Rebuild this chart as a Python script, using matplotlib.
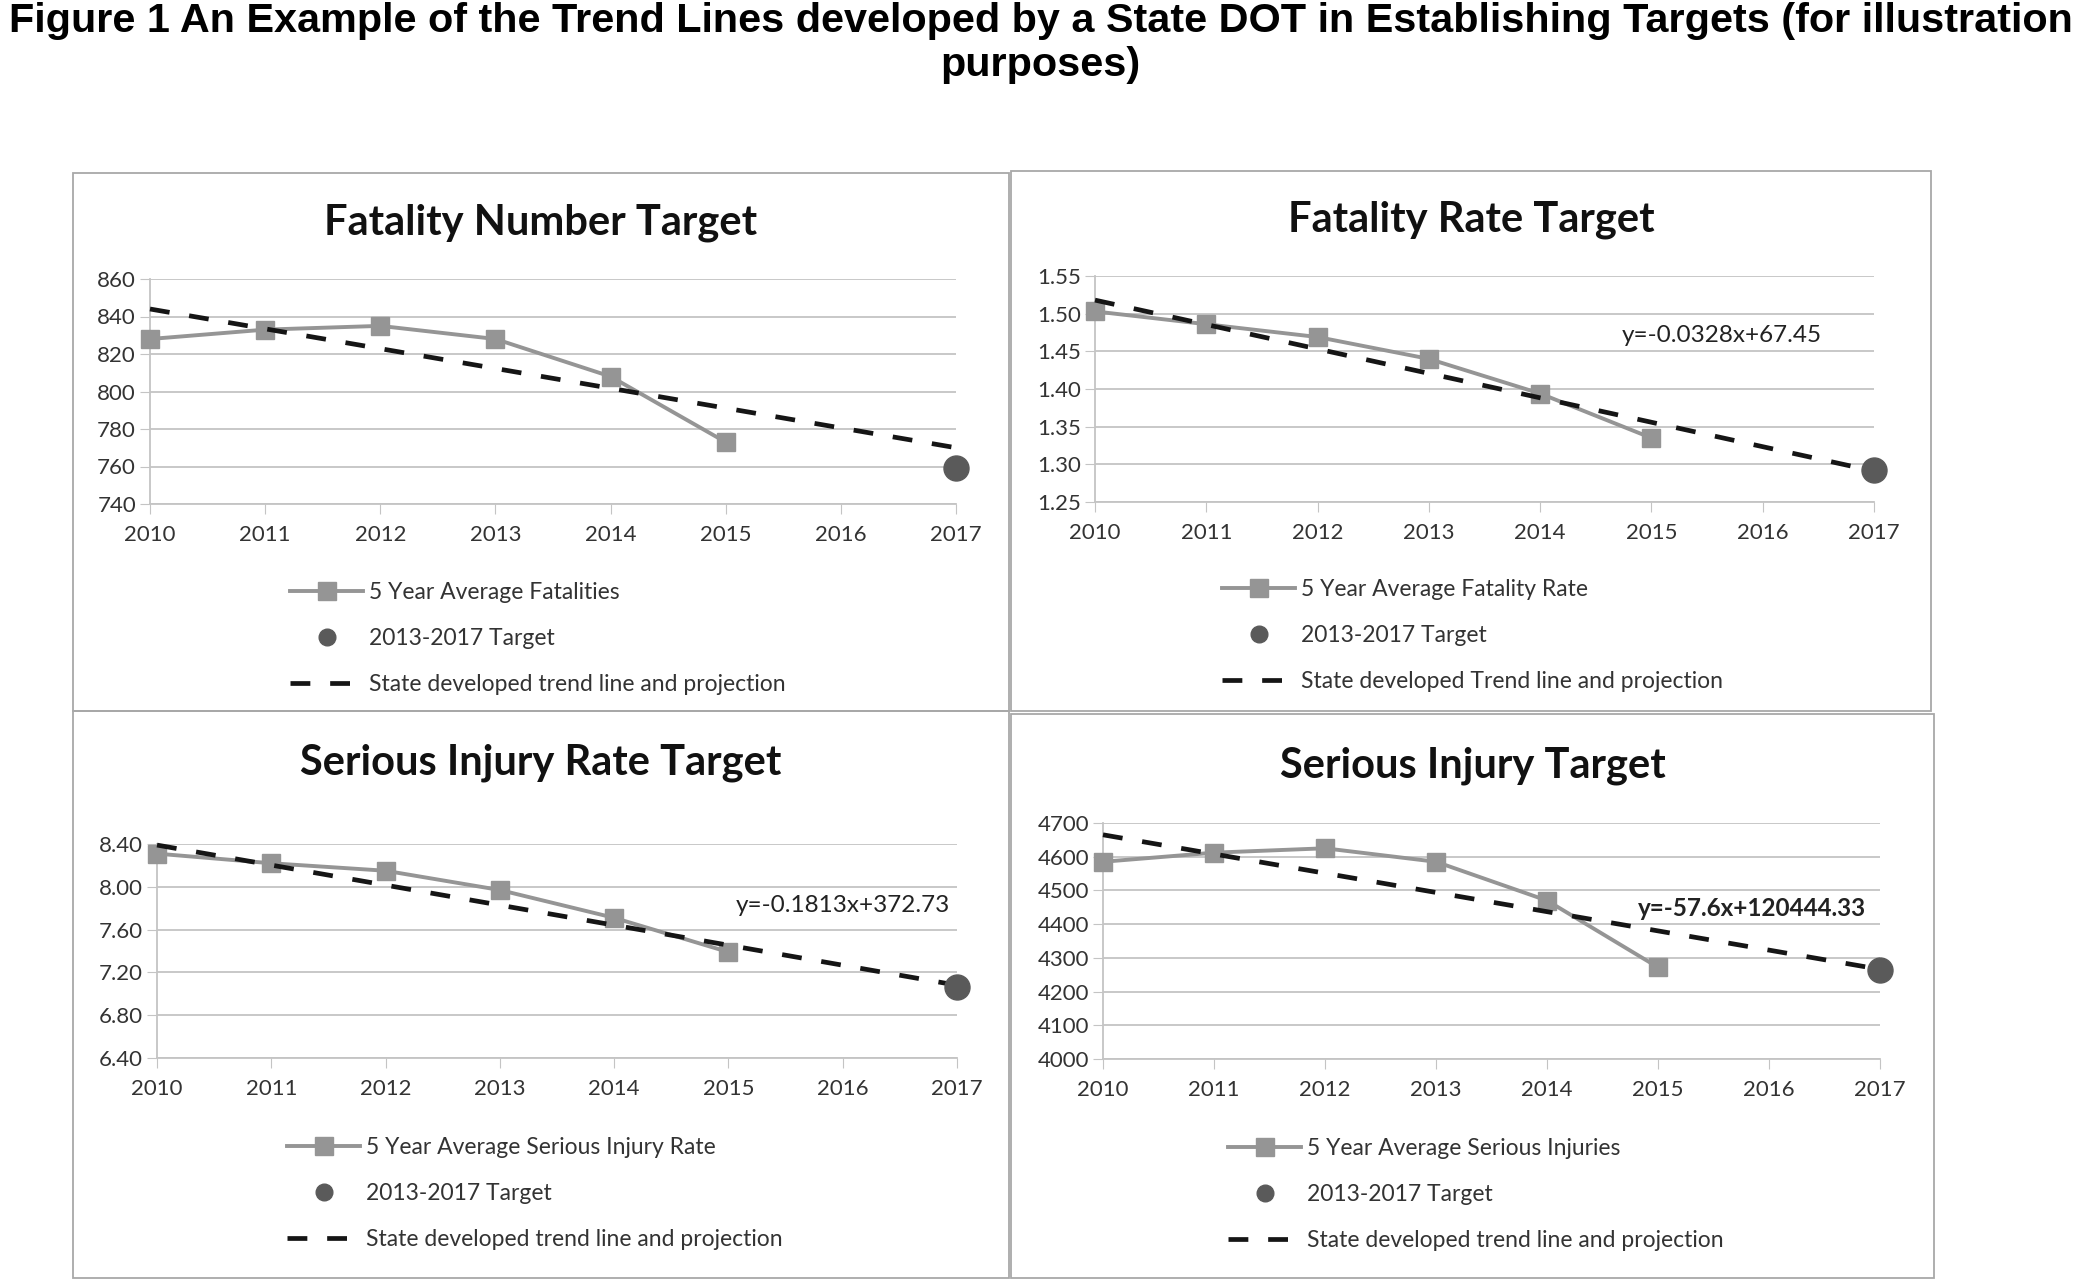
import matplotlib
matplotlib.use('Agg')
import matplotlib.pyplot as plt
from matplotlib.lines import Line2D
from matplotlib.patches import Rectangle

# data
years = [2010, 2011, 2012, 2013, 2014, 2015, 2016, 2017]
avg_years = [2010, 2011, 2012, 2013, 2014, 2015]
target_year = [2017]
trend_years = [2010, 2017]

fat_avg = [828, 833, 835, 828, 808, 773]
fat_target = [759]
fat_trend = [844, 770]
fat_ticks = [740, 760, 780, 800, 820, 840, 860]

rate_avg = [1.503, 1.486, 1.469, 1.440, 1.394, 1.335]
rate_target = [1.292]
rate_trend = [1.518, 1.291]
rate_ticks = [1.25, 1.30, 1.35, 1.40, 1.45, 1.50, 1.55]

sir_avg = [8.31, 8.22, 8.15, 7.97, 7.71, 7.39]
sir_target = [7.06]
sir_trend = [8.39, 7.08]
sir_ticks = [6.40, 6.80, 7.20, 7.60, 8.00, 8.40]

si_avg = [4585, 4612, 4625, 4585, 4470, 4272]
si_target = [4264]
si_trend = [4665, 4266]
si_ticks = [4000, 4100, 4200, 4300, 4400, 4500, 4600, 4700]

W, H = 2081, 1279
fig = plt.figure(figsize=(W / 100, H / 100), dpi=100)
fig.patch.set_facecolor('white')

FONT = 'Lato'
AVG_C = '#959595'
TGT_C = '#5a5a5a'
TRD_C = '#151515'
GRID_C = '#c4c4c4'


def fx(px):
    return px / W


def fy(py):
    return 1 - py / H


fig.text(0.5, fy(21), 'Figure 1 An Example of the Trend Lines developed by a State DOT in Establishing Targets (for illustration',
         ha='center', va='center', fontsize=29.8, fontweight='bold', family='Liberation Sans')
fig.text(0.5, fy(65), 'purposes)', ha='center', va='center', fontsize=29.8, fontweight='bold', family='Liberation Sans')


def panel(box, axbox, title_y, title, avg, target, trend, ticks, fmt, leg_x, leg_y,
          avg_label, trend_label, eq=None, eq_bold=False):
    x0, y0, x1, y1 = box
    fig.add_artist(Rectangle((fx(x0), fy(y1)), fx(x1) - fx(x0), fy(y0) - fy(y1),
                             transform=fig.transFigure, fill=False, edgecolor='#a8a8a8', lw=1.3))
    fig.text(fx((x0 + x1) / 2), fy(title_y), title, ha='center', va='center',
             fontsize=30, fontweight='bold', family=FONT, color='#111111')

    ax0, ay0, ax1, ay1 = axbox
    ax = fig.add_axes([fx(ax0), fy(ay1), fx(ax1) - fx(ax0), fy(ay0) - fy(ay1)])
    ax.plot(avg_years, avg, color=AVG_C, lw=2.8, marker='s', ms=13, mfc=AVG_C, mec=AVG_C,
            zorder=3, clip_on=False)
    ax.plot(trend_years, trend, color=TRD_C, lw=3.4, dashes=(4.2, 4.2), zorder=4, clip_on=False)
    ax.plot(target_year, target, 'o', color=TGT_C, ms=18, zorder=5, clip_on=False)

    ax.set_xlim(years[0], years[-1])
    ax.set_ylim(ticks[0], ticks[-1])
    ax.set_xticks(years)
    ax.set_xticklabels([str(y) for y in years], fontsize=16, family=FONT, color='#333333')
    ax.set_yticks(ticks)
    ax.set_yticklabels([fmt.format(t) for t in ticks], fontsize=16, family=FONT, color='#333333')
    ax.grid(axis='y', color=GRID_C, lw=1.3)
    ax.set_axisbelow(True)
    for s in ['top', 'right', 'bottom']:
        ax.spines[s].set_visible(False)
    ax.spines['left'].set_color(GRID_C)
    ax.spines['left'].set_linewidth(1.3)
    ax.tick_params(axis='x', length=7, color=GRID_C, pad=8)
    ax.tick_params(axis='y', length=7, color=GRID_C, pad=3)
    ax.axhline(ticks[0], color=GRID_C, lw=1.3, clip_on=False)
    ax.set_facecolor('none')

    if eq is not None:
        fig.text(fx(eq[0]), fy(eq[1]), eq[2], ha='center', va='center', fontsize=17.5, family=FONT,
                 fontweight='bold' if eq_bold else 'normal', color='#222222')

    handles = [
        Line2D([], [], color=AVG_C, lw=2.8, marker='s', ms=13, mfc=AVG_C, mec=AVG_C),
        Line2D([], [], color=TGT_C, marker='o', ms=12, ls='none'),
        Line2D([], [], color=TRD_C, lw=3.4, dashes=(4.2, 4.2)),
    ]
    labels = [avg_label, '2013-2017 Target', trend_label]
    ax.legend(handles, labels, loc='upper left', bbox_to_anchor=(fx(leg_x), fy(leg_y)),
              bbox_transform=fig.transFigure, frameon=False, borderpad=0, borderaxespad=0,
              handlelength=3.2, handletextpad=0.25, labelspacing=1.1,
              prop={'family': FONT, 'size': 16.5}, labelcolor='#333333')
    return ax


panel((73, 173, 1009, 711), (150, 279, 956, 504), 223, 'Fatality Number Target',
      fat_avg, fat_target, fat_trend, fat_ticks, '{:.0f}', 290, 582,
      '5 Year Average Fatalities', 'State developed trend line and projection')

panel((1011, 171, 1931, 711), (1095, 276, 1874, 502), 220, 'Fatality Rate Target',
      rate_avg, rate_target, rate_trend, rate_ticks, '{:.2f}', 1222, 579,
      '5 Year Average Fatality Rate', 'State developed Trend line and projection',
      eq=(1722, 336, 'y=-0.0328x+67.45'))

panel((73, 711, 1009, 1278), (157, 844, 957, 1058), 763, 'Serious Injury Rate Target',
      sir_avg, sir_target, sir_trend, sir_ticks, '{:.2f}', 287, 1137,
      '5 Year Average Serious Injury Rate', 'State developed trend line and projection',
      eq=(843, 906, 'y=-0.1813x+372.73'))

panel((1011, 714, 1934, 1278), (1103, 823, 1880, 1059), 766, 'Serious Injury Target',
      si_avg, si_target, si_trend, si_ticks, '{:.0f}', 1228, 1138,
      '5 Year Average Serious Injuries', 'State developed trend line and projection',
      eq=(1752, 909, 'y=-57.6x+120444.33'), eq_bold=True)

fig.savefig('out.png', dpi=100, facecolor='white')
